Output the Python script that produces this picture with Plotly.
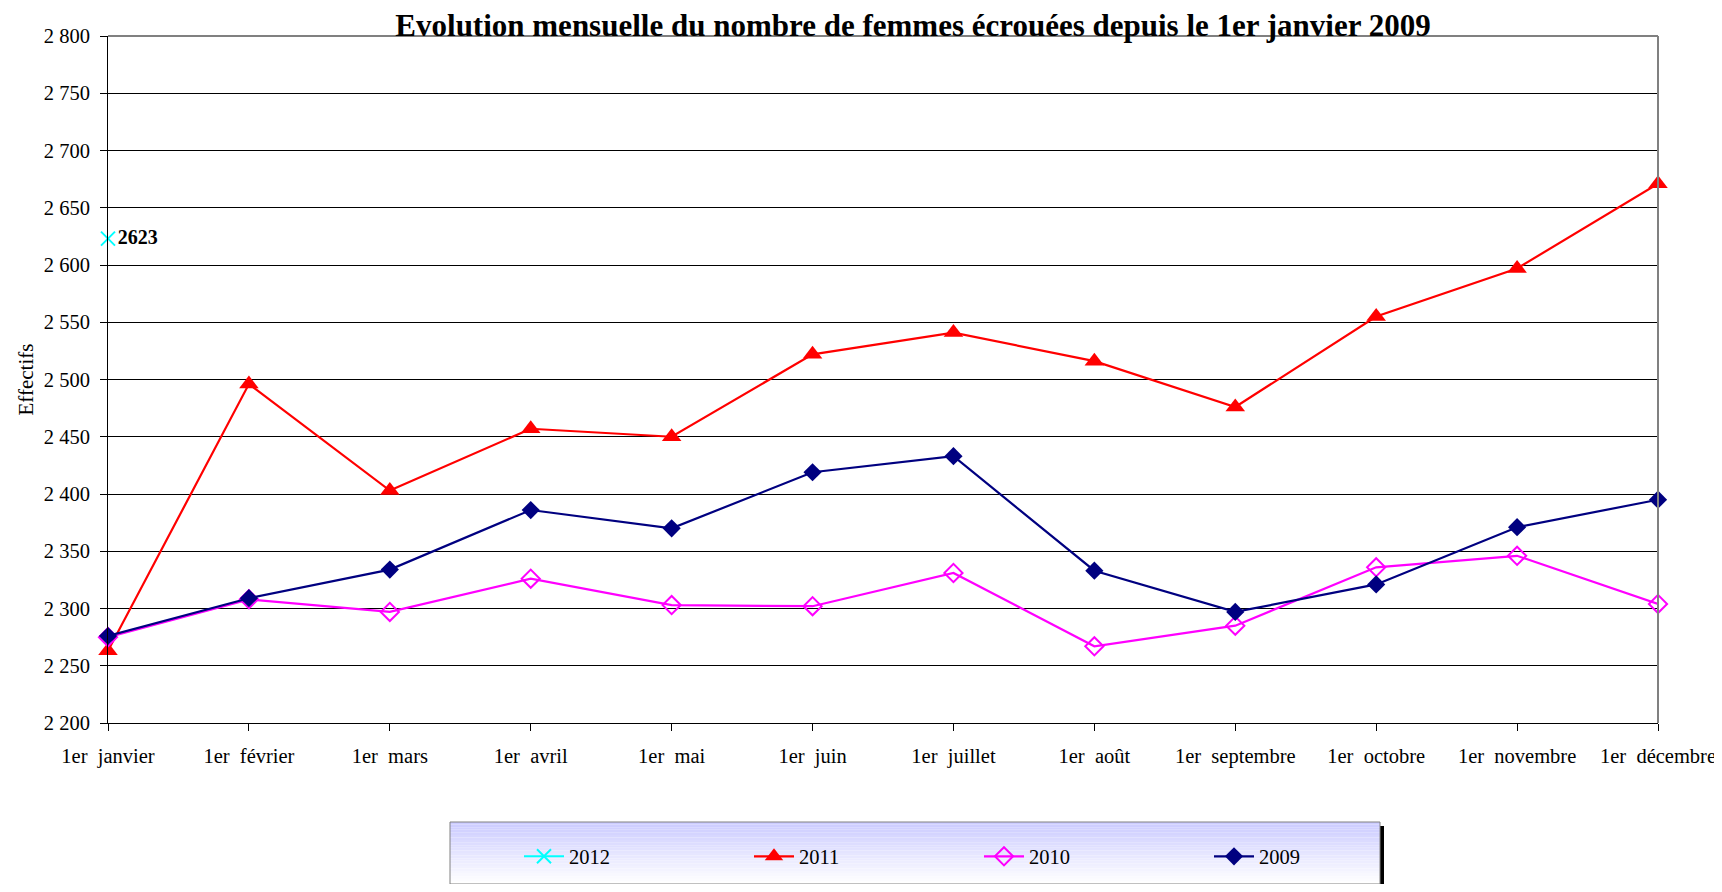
import plotly.graph_objects as go

months = ["1er  janvier", "1er  février", "1er  mars", "1er  avril", "1er  mai", "1er  juin",
          "1er  juillet", "1er  août", "1er  septembre", "1er  octobre", "1er  novembre", "1er  décembre"]

y2012 = [2623]
y2011 = [2263, 2496, 2403, 2457, 2450, 2522, 2541, 2516, 2476, 2555, 2597, 2671]
y2010 = [2275, 2308, 2297, 2326, 2303, 2302, 2331, 2267, 2285, 2336, 2346, 2304]
y2009 = [2276, 2309, 2334, 2386, 2370, 2419, 2433, 2333, 2297, 2321, 2371, 2395]

W, H = 1714, 876
L, T = 100, 28
R = W - 1650
B = H - 715
pw, ph = W - L - R, H - T - B

def px(x):
    return (x - L) / pw

def py(y):
    return (H - B - y) / ph

fig = go.Figure()
fig.add_trace(go.Scatter(x=months[:len(y2012)], y=y2012, name="2012", mode="lines+markers+text",
                         line=dict(color="#00FFFF", width=2),
                         marker=dict(symbol="x-thin-open", size=14, line=dict(color="#00FFFF", width=2)),
                         text=[str(v) for v in y2012], texttemplate="<b>%{text}</b>", textposition="middle right",
                         textfont=dict(family="Liberation Serif", size=20, color="black"),
                         cliponaxis=False))
fig.add_trace(go.Scatter(x=months, y=y2011, name="2011", mode="lines+markers",
                         line=dict(color="#FF0000", width=2.2),
                         marker=dict(symbol="triangle-up", size=17, color="#FF0000"),
                         cliponaxis=False))
fig.add_trace(go.Scatter(x=months, y=y2010, name="2010", mode="lines+markers",
                         line=dict(color="#FF00FF", width=2.2),
                         marker=dict(symbol="diamond-open", size=14, color="#FF00FF", line=dict(width=2)),
                         cliponaxis=False))
fig.add_trace(go.Scatter(x=months, y=y2009, name="2009", mode="lines+markers",
                         line=dict(color="#000080", width=2.2),
                         marker=dict(symbol="diamond", size=14, color="#000080"),
                         cliponaxis=False))

shapes = []
# legend box gradient
lx0, lx1, ly0, ly1 = 442, 1372, 814, H
n = 24
for i in range(n):
    t = i / (n - 1)
    r = int(0xCC + (0xFF - 0xCC) * t)
    ya = ly0 + (ly1 - ly0) * i / n
    yb = ly0 + (ly1 - ly0) * (i + 1) / n
    shapes.append(dict(type="rect", xref="paper", yref="paper", x0=px(lx0), x1=px(lx1),
                       y0=py(yb), y1=py(ya), fillcolor=f"rgb({r},{r},255)", line=dict(width=0), layer="below"))
shapes.append(dict(type="rect", xref="paper", yref="paper", x0=px(lx1), x1=px(lx1 + 4),
                   y0=py(ly1), y1=py(ly0 + 4), fillcolor="black", line=dict(width=0)))
shapes.append(dict(type="rect", xref="paper", yref="paper", x0=px(lx0), x1=px(lx1),
                   y0=py(ly1), y1=py(ly0), fillcolor="rgba(0,0,0,0)", line=dict(color="#808080", width=1)))
# plot border top & right
shapes.append(dict(type="line", xref="paper", yref="paper", x0=0, x1=1, y0=1, y1=1, line=dict(color="#808080", width=2)))
shapes.append(dict(type="line", xref="paper", yref="paper", x0=1, x1=1, y0=0, y1=1, line=dict(color="#808080", width=2)))

fig.update_layout(
    width=W, height=H,
    margin=dict(l=L, r=R, t=T, b=B, autoexpand=False),
    paper_bgcolor="white", plot_bgcolor="white",
    font=dict(family="Liberation Serif", size=20.5, color="black"),
    separators=", ",
    title=dict(text="<b>Evolution mensuelle du nombre de femmes écrouées depuis le 1er janvier 2009</b>",
               font=dict(family="Liberation Serif", size=31, color="black"),
               x=905 / W, xanchor="center", y=1 - 17 / H, yanchor="middle"),
    xaxis=dict(type="category", range=[0, 11], showgrid=False, showline=True, linecolor="black", linewidth=1,
               ticks="outside", ticklen=7, tickcolor="black", tickfont=dict(size=20.5),
               ticklabelstandoff=7, zeroline=False),
    yaxis=dict(range=[2200, 2800], dtick=50, tickformat=",d", showgrid=True, gridcolor="black", gridwidth=1,
               showline=True, linecolor="black", linewidth=1, ticks="outside", ticklen=7, tickcolor="black",
               tickfont=dict(size=20.5), ticklabelstandoff=6, zeroline=False,
               title=dict(text="Effectifs", font=dict(size=21), standoff=4)),
    showlegend=True,
    legend=dict(orientation="h", x=px(511), xanchor="left", y=py(848.5), yanchor="middle",
                bgcolor="rgba(0,0,0,0)", entrywidth=175, entrywidthmode="pixels",
                font=dict(family="Liberation Serif", size=20.5), traceorder="normal", itemwidth=40),
    shapes=shapes,
)

fig.write_html("out.html")
